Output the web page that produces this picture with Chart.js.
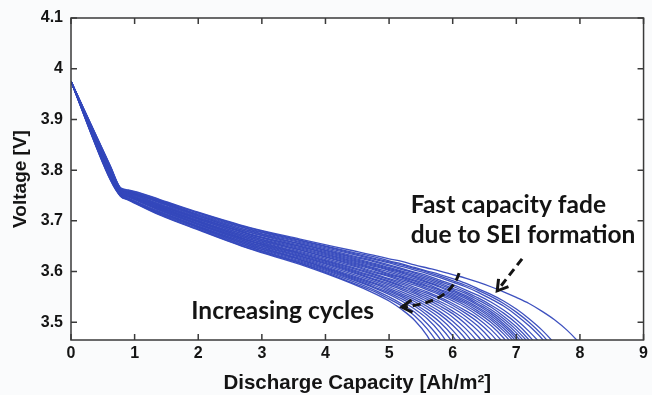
<!DOCTYPE html>
<html>
<head>
<meta charset="utf-8">
<script src="https://cdn.jsdelivr.net/npm/chart.js@4"></script>
<style>
  html, body { margin: 0; padding: 0; background: #fafbfc; }
  #dischargeChart { display: block; }
</style>
</head>
<body>
<canvas id="dischargeChart" width="652" height="395"></canvas>
<script>
// capacity points (Ah/m^2) shared by every discharge curve
const capGrid = [0, 0.62, 0.78, 0.9, 1.4, 2.0, 2.8, 3.6, 4.4, 4.8, 5.0, 5.2, 5.4, 5.6, 5.8, 6.0, 6.2, 6.4, 6.6, 6.8, 7.0, 7.2, 7.4, 7.6, 7.8, 8.0, 8.2];

// voltage per cycle (first cycle first); each row stops once it runs off the bottom
const cycleVoltage = [
  [3.975, 3.808, 3.765, 3.761, 3.742, 3.717, 3.687, 3.664, 3.642, 3.631, 3.625, 3.620, 3.613, 3.607, 3.601, 3.594, 3.587, 3.579, 3.570, 3.560, 3.549, 3.537, 3.522, 3.505, 3.484, 3.458, 3.427],
  [3.975, 3.807, 3.764, 3.760, 3.741, 3.716, 3.686, 3.662, 3.639, 3.628, 3.621, 3.615, 3.608, 3.601, 3.594, 3.586, 3.577, 3.566, 3.555, 3.542, 3.526, 3.507, 3.485, 3.458, 3.424],
  [3.975, 3.806, 3.764, 3.759, 3.740, 3.715, 3.684, 3.661, 3.637, 3.625, 3.619, 3.613, 3.606, 3.599, 3.591, 3.582, 3.573, 3.563, 3.551, 3.537, 3.520, 3.500, 3.476, 3.447],
  [3.975, 3.805, 3.763, 3.758, 3.739, 3.713, 3.683, 3.659, 3.635, 3.623, 3.617, 3.610, 3.603, 3.596, 3.588, 3.579, 3.570, 3.559, 3.546, 3.532, 3.514, 3.493, 3.468, 3.436],
  [3.975, 3.804, 3.763, 3.758, 3.738, 3.712, 3.681, 3.657, 3.632, 3.620, 3.613, 3.606, 3.599, 3.592, 3.583, 3.574, 3.564, 3.553, 3.540, 3.524, 3.505, 3.482, 3.455, 3.420],
  [3.975, 3.803, 3.762, 3.757, 3.737, 3.711, 3.680, 3.655, 3.630, 3.618, 3.611, 3.604, 3.597, 3.589, 3.580, 3.571, 3.560, 3.548, 3.534, 3.518, 3.498, 3.473, 3.443],
  [3.975, 3.802, 3.762, 3.757, 3.736, 3.710, 3.678, 3.654, 3.628, 3.615, 3.608, 3.601, 3.594, 3.586, 3.577, 3.567, 3.557, 3.544, 3.530, 3.512, 3.491, 3.465, 3.432],
  [3.975, 3.801, 3.761, 3.756, 3.735, 3.709, 3.677, 3.652, 3.626, 3.613, 3.606, 3.599, 3.591, 3.583, 3.574, 3.564, 3.553, 3.540, 3.525, 3.507, 3.485, 3.458, 3.423],
  [3.975, 3.800, 3.760, 3.755, 3.733, 3.707, 3.675, 3.650, 3.624, 3.611, 3.604, 3.597, 3.589, 3.580, 3.571, 3.561, 3.550, 3.536, 3.521, 3.502, 3.479, 3.450, 3.413],
  [3.975, 3.799, 3.760, 3.755, 3.732, 3.706, 3.674, 3.649, 3.622, 3.609, 3.602, 3.594, 3.586, 3.578, 3.569, 3.558, 3.547, 3.533, 3.517, 3.497, 3.473, 3.443],
  [3.975, 3.798, 3.759, 3.754, 3.731, 3.705, 3.673, 3.647, 3.620, 3.606, 3.599, 3.591, 3.583, 3.575, 3.565, 3.555, 3.543, 3.529, 3.513, 3.493, 3.468, 3.436],
  [3.975, 3.797, 3.759, 3.753, 3.730, 3.704, 3.671, 3.645, 3.618, 3.604, 3.596, 3.589, 3.581, 3.572, 3.563, 3.552, 3.540, 3.526, 3.509, 3.488, 3.462, 3.429],
  [3.975, 3.796, 3.758, 3.752, 3.729, 3.703, 3.670, 3.643, 3.616, 3.602, 3.594, 3.587, 3.578, 3.570, 3.560, 3.549, 3.537, 3.522, 3.505, 3.483, 3.456, 3.422],
  [3.975, 3.795, 3.757, 3.751, 3.728, 3.701, 3.668, 3.642, 3.614, 3.599, 3.592, 3.584, 3.576, 3.567, 3.557, 3.546, 3.533, 3.518, 3.500, 3.477, 3.448],
  [3.975, 3.795, 3.757, 3.751, 3.727, 3.700, 3.667, 3.640, 3.612, 3.597, 3.590, 3.581, 3.573, 3.564, 3.554, 3.542, 3.529, 3.513, 3.494, 3.469, 3.438],
  [3.975, 3.794, 3.756, 3.750, 3.726, 3.699, 3.665, 3.638, 3.609, 3.594, 3.586, 3.578, 3.569, 3.560, 3.549, 3.537, 3.523, 3.507, 3.486, 3.459, 3.425],
  [3.975, 3.793, 3.756, 3.750, 3.725, 3.698, 3.664, 3.636, 3.607, 3.592, 3.584, 3.575, 3.566, 3.557, 3.546, 3.533, 3.518, 3.500, 3.477, 3.448],
  [3.975, 3.792, 3.755, 3.749, 3.724, 3.697, 3.662, 3.635, 3.605, 3.589, 3.581, 3.572, 3.563, 3.553, 3.541, 3.528, 3.512, 3.492, 3.466, 3.433],
  [3.975, 3.791, 3.754, 3.748, 3.723, 3.695, 3.661, 3.633, 3.603, 3.587, 3.579, 3.570, 3.560, 3.549, 3.537, 3.522, 3.505, 3.483, 3.454, 3.416],
  [3.975, 3.790, 3.754, 3.748, 3.722, 3.694, 3.660, 3.631, 3.601, 3.584, 3.576, 3.567, 3.557, 3.545, 3.532, 3.517, 3.497, 3.472, 3.440],
  [3.975, 3.789, 3.753, 3.747, 3.721, 3.693, 3.658, 3.630, 3.599, 3.582, 3.573, 3.564, 3.553, 3.541, 3.527, 3.510, 3.488, 3.460, 3.422],
  [3.975, 3.788, 3.753, 3.747, 3.720, 3.692, 3.657, 3.628, 3.596, 3.579, 3.570, 3.560, 3.549, 3.536, 3.521, 3.502, 3.478, 3.446],
  [3.975, 3.787, 3.752, 3.745, 3.718, 3.690, 3.655, 3.626, 3.593, 3.576, 3.567, 3.556, 3.545, 3.531, 3.515, 3.494, 3.467, 3.429],
  [3.975, 3.786, 3.751, 3.744, 3.717, 3.689, 3.654, 3.624, 3.591, 3.574, 3.564, 3.553, 3.541, 3.526, 3.508, 3.484, 3.453, 3.409],
  [3.975, 3.785, 3.751, 3.744, 3.716, 3.688, 3.652, 3.623, 3.589, 3.571, 3.561, 3.550, 3.536, 3.520, 3.500, 3.473, 3.436],
  [3.975, 3.784, 3.750, 3.743, 3.715, 3.687, 3.651, 3.621, 3.587, 3.568, 3.558, 3.546, 3.532, 3.514, 3.491, 3.460, 3.416],
  [3.975, 3.783, 3.750, 3.743, 3.714, 3.686, 3.649, 3.619, 3.585, 3.566, 3.555, 3.542, 3.526, 3.507, 3.480, 3.443],
  [3.975, 3.782, 3.749, 3.742, 3.713, 3.684, 3.648, 3.617, 3.582, 3.562, 3.550, 3.536, 3.520, 3.497, 3.467, 3.423],
  [3.975, 3.781, 3.749, 3.742, 3.712, 3.683, 3.646, 3.616, 3.579, 3.559, 3.546, 3.532, 3.513, 3.487, 3.451, 3.397],
  [3.975, 3.780, 3.748, 3.741, 3.711, 3.682, 3.645, 3.614, 3.577, 3.555, 3.542, 3.525, 3.504, 3.473, 3.427]
];

const xTicks = [0, 1, 2, 3, 4, 5, 6, 7, 8, 9];
const yTicks = [3.5, 3.6, 3.7, 3.8, 3.9, 4.0, 4.1];

const xTitle = 'Discharge Capacity [Ah/m²]';
const yTitle = 'Voltage [V]';

// callouts, placed in data units (capacity, voltage)
const notes = [
  { lines: ['Fast capacity fade', 'due to SEI formation'], x: 5.34, y: 3.715, gap: 0.059 },
  { lines: ['Increasing cycles'], x: 1.89, y: 3.506, gap: 0 }
];
const fadeArrow = { from: [7.09, 3.625], to: [6.70, 3.562] };
const cycleArrow = { from: [6.10, 3.597], bend: [5.96, 3.538], to: [5.20, 3.530] };

const LINE_BLUE = 'rgba(52, 72, 188, 0.95)';
const INK = '#141414';

function arrowHead(ctx, tipX, tipY, dx, dy) {
  const len = Math.hypot(dx, dy);
  const ux = dx / len, uy = dy / len;
  const size = 12, spread = 0.55;
  ctx.setLineDash([]);
  ctx.beginPath();
  ctx.moveTo(tipX - size * (ux * Math.cos(spread) - uy * Math.sin(spread)),
             tipY - size * (uy * Math.cos(spread) + ux * Math.sin(spread)));
  ctx.lineTo(tipX, tipY);
  ctx.lineTo(tipX - size * (ux * Math.cos(spread) + uy * Math.sin(spread)),
             tipY - size * (uy * Math.cos(spread) - ux * Math.sin(spread)));
  ctx.stroke();
}

const backdrop = {
  id: 'backdrop',
  beforeDraw(chart) {
    const { ctx, chartArea: a } = chart;
    ctx.save();
    ctx.fillStyle = '#fafbfc';
    ctx.fillRect(0, 0, chart.width, chart.height);
    ctx.fillStyle = '#ffffff';
    ctx.fillRect(a.left, a.top, a.right - a.left, a.bottom - a.top);
    ctx.restore();
  }
};

const decorations = {
  id: 'decorations',
  afterDraw(chart) {
    const { ctx, chartArea: a } = chart;
    const xs = chart.scales.x, ys = chart.scales.y;
    const px = v => xs.getPixelForValue(v);
    const py = v => ys.getPixelForValue(v);
    ctx.save();

    // box with inward ticks on every side
    ctx.strokeStyle = '#3a3a3a';
    ctx.lineWidth = 1.5;
    ctx.strokeRect(a.left, a.top, a.right - a.left, a.bottom - a.top);
    ctx.beginPath();
    xTicks.forEach(v => {
      const x = px(v);
      ctx.moveTo(x, a.bottom); ctx.lineTo(x, a.bottom - 6);
      ctx.moveTo(x, a.top); ctx.lineTo(x, a.top + 6);
    });
    yTicks.forEach(v => {
      const y = py(v);
      ctx.moveTo(a.left, y); ctx.lineTo(a.left + 6, y);
      ctx.moveTo(a.right, y); ctx.lineTo(a.right - 6, y);
    });
    ctx.stroke();

    // axis titles
    ctx.fillStyle = INK;
    ctx.textAlign = 'center';
    ctx.textBaseline = 'alphabetic';
    ctx.font = 'bold 20.5px "Liberation Sans", Arial, sans-serif';
    ctx.fillText(xTitle, (a.left + a.right) / 2, 389);
    ctx.font = 'bold 19px "Liberation Sans", Arial, sans-serif';
    ctx.save();
    ctx.translate(26, (a.top + a.bottom) / 2);
    ctx.rotate(-Math.PI / 2);
    ctx.fillText(yTitle, 0, 0);
    ctx.restore();

    // callout text
    ctx.font = 'bold 24.5px Lato, "Open Sans", sans-serif';
    ctx.textAlign = 'left';
    notes.forEach(n => {
      n.lines.forEach((t, i) => ctx.fillText(t, px(n.x), py(n.y - i * n.gap)));
    });

    // dashed arrows
    ctx.strokeStyle = INK;
    ctx.lineWidth = 3;
    ctx.lineCap = 'butt';
    ctx.setLineDash([8, 5]);
    const f0 = [px(fadeArrow.from[0]), py(fadeArrow.from[1])];
    const f1 = [px(fadeArrow.to[0]), py(fadeArrow.to[1])];
    ctx.beginPath();
    ctx.moveTo(f0[0], f0[1]);
    ctx.lineTo(f1[0], f1[1]);
    ctx.stroke();
    arrowHead(ctx, f1[0], f1[1], f1[0] - f0[0], f1[1] - f0[1]);

    const c0 = [px(cycleArrow.from[0]), py(cycleArrow.from[1])];
    const cb = [px(cycleArrow.bend[0]), py(cycleArrow.bend[1])];
    const c1 = [px(cycleArrow.to[0]), py(cycleArrow.to[1])];
    ctx.setLineDash([8, 5]);
    ctx.beginPath();
    ctx.moveTo(c0[0], c0[1]);
    ctx.quadraticCurveTo(cb[0], cb[1], c1[0], c1[1]);
    ctx.stroke();
    arrowHead(ctx, c1[0], c1[1], c1[0] - cb[0], c1[1] - cb[1]);

    ctx.restore();
  }
};

const datasets = cycleVoltage.map((row, k) => ({
  label: 'cycle ' + (k + 1),
  data: row.map((v, i) => ({ x: capGrid[i], y: v })),
  borderColor: LINE_BLUE,
  borderWidth: 1.3,
  pointRadius: 0,
  fill: false,
  cubicInterpolationMode: 'monotone'
}));

const tickFont = { family: '"Liberation Sans", Arial, sans-serif', size: 16, weight: 'bold' };

new Chart(document.getElementById('dischargeChart'), {
  type: 'line',
  data: { datasets: datasets },
  options: {
    responsive: false,
    devicePixelRatio: 1,
    animation: false,
    layout: { padding: { top: 18, right: 6, left: 0, bottom: 0 } },
    plugins: { legend: { display: false }, tooltip: { enabled: false } },
    scales: {
      x: {
        type: 'linear',
        min: 0,
        max: 9,
        grid: { display: false, drawTicks: false },
        border: { display: false },
        afterBuildTicks: s => { s.ticks = xTicks.map(v => ({ value: v })); },
        afterFit: s => { s.height = 55; },
        ticks: { font: tickFont, color: INK, padding: 4, maxRotation: 0, autoSkip: false, callback: v => String(v) }
      },
      y: {
        type: 'linear',
        min: 3.465,
        max: 4.1,
        grid: { display: false, drawTicks: false },
        border: { display: false },
        afterBuildTicks: s => { s.ticks = yTicks.map(v => ({ value: v })); },
        afterFit: s => { s.width = 71; },
        ticks: { font: tickFont, color: INK, padding: 8, autoSkip: false, callback: v => String(v) }
      }
    }
  },
  plugins: [backdrop, decorations]
});
</script>
</body>
</html>
